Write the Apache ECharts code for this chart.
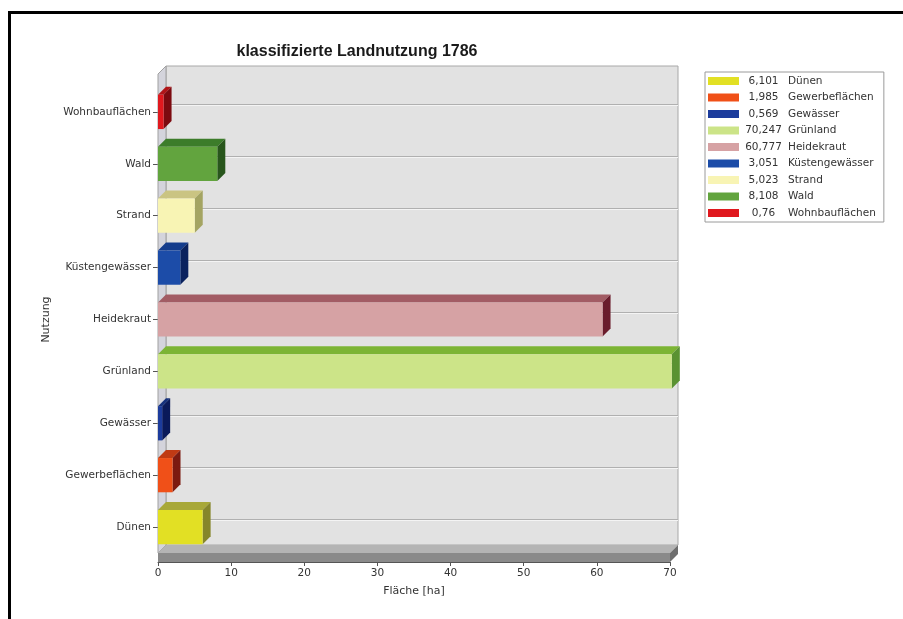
<!DOCTYPE html>
<html>
<head>
<meta charset="utf-8">
<title>klassifizierte Landnutzung 1786</title>
<script src="https://cdn.jsdelivr.net/npm/echarts@6/dist/echarts.min.js"></script>
<style>
  html, body { margin: 0; padding: 0; background: #ffffff; }
  #chart { width: 903px; height: 619px; }
</style>
</head>
<body>
<div id="chart"></div>
<script>
// Land use classes (bottom to top on the category axis)
const categories = ['Dünen', 'Gewerbeflächen', 'Gewässer', 'Grünland', 'Heidekraut',
                    'Küstengewässer', 'Strand', 'Wald', 'Wohnbauflächen'];
// Area per class in hectares
const areaHa = [6.101, 1.985, 0.569, 70.247, 60.777, 3.051, 5.023, 8.108, 0.76];
// Value axis ticks
const xTicks = [0, 10, 20, 30, 40, 50, 60, 70];

// Face colours of the extruded bars: front, top, side
const frontColors = ['#e2e024', '#f05018', '#1c3c9c', '#cce488', '#d6a2a4', '#1c4ca8', '#f8f4b4', '#62a43e', '#e0181e'];
const topColors   = ['#a8a838', '#c03a14', '#14307c', '#7cb434', '#a25c64', '#143c8c', '#cac482', '#3c7c2a', '#b01418'];
const sideColors  = ['#86862a', '#7c1a10', '#0a1a5a', '#5a9232', '#6a1c2c', '#0a225e', '#a4a462', '#28561c', '#7c0a10'];

const DX = 8, DY = 8;          // depth offset of the 3D look
const BAR_RATIO = 0.66;        // bar thickness relative to category band

function fmt(v) { return String(v).replace('.', ','); }

function renderBar(idx) {
  return function (params, api) {
    const v = api.value(0), c = api.value(1);
    const p0 = api.coord([0, c]);
    const p1 = api.coord([v, c]);
    const h = api.size([0, 1])[1] * BAR_RATIO;
    const x0 = p0[0], x1 = p1[0];
    const yT = p0[1] - h / 2, yB = p0[1] + h / 2;
    return {
      type: 'group',
      children: [
        { type: 'polygon', shape: { points: [[x0, yT], [x1, yT], [x1 + DX, yT - DY], [x0 + DX, yT - DY]] },
          style: { fill: topColors[idx] } },
        { type: 'polygon', shape: { points: [[x1, yT], [x1 + DX, yT - DY], [x1 + DX, yB - DY], [x1, yB]] },
          style: { fill: sideColors[idx] } },
        { type: 'rect', shape: { x: x0, y: yT, width: x1 - x0, height: h },
          style: { fill: frontColors[idx] } }
      ]
    };
  };
}

// Back wall, left wall, floor slab and gridlines on the back wall
function renderWalls(params, api) {
  const cs = params.coordSys;
  const x = cs.x, y = cs.y, w = cs.width, h = cs.height;
  const wallTop = y - 20;
  const bottom = y + h;
  const slab = 9;
  const children = [
    // back wall
    { type: 'rect', shape: { x: x + DX, y: wallTop, width: w, height: bottom - DY - wallTop },
      style: { fill: '#e2e2e2', stroke: '#a8a8a8', lineWidth: 1 } },
    // left wall
    { type: 'polygon', shape: { points: [[x, wallTop + DY], [x + DX, wallTop], [x + DX, bottom - DY], [x, bottom]] },
      style: { fill: '#d4d4dc', stroke: '#a0a0a0', lineWidth: 1 } },
    // floor top face
    { type: 'polygon', shape: { points: [[x, bottom], [x + w, bottom], [x + w + DX, bottom - DY], [x + DX, bottom - DY]] },
      style: { fill: '#b4b4b4' } },
    // floor front face
    { type: 'rect', shape: { x: x, y: bottom, width: w, height: slab },
      style: { fill: '#8a8a8a' } },
    // floor right face
    { type: 'polygon', shape: { points: [[x + w, bottom], [x + w + DX, bottom - DY], [x + w + DX, bottom - DY + slab], [x + w, bottom + slab]] },
      style: { fill: '#6e6e6e' } }
  ];
  for (let i = 0; i < categories.length; i++) {
    const gy = Math.round(api.coord([0, i])[1] - DY) + 0.5;
    children.push({ type: 'line', shape: { x1: x + DX, y1: gy, x2: x + w + DX, y2: gy },
      style: { stroke: '#b0b0b0', lineWidth: 1 } });
    children.push({ type: 'line', shape: { x1: x + DX, y1: gy + 1, x2: x + w + DX, y2: gy + 1 },
      style: { stroke: '#f4f4f4', lineWidth: 1 } });
  }
  return { type: 'group', children: children, silent: true };
}

const FONT = '"DejaVu Sans", Verdana, sans-serif';
const TITLE_FONT = '"Liberation Sans", Arial, sans-serif';
const FS = 10.5;

const series = [{
  name: '__walls',
  type: 'custom',
  renderItem: renderWalls,
  data: [[0, 0]],
  encode: { x: 0, y: 1 },
  silent: true,
  clip: false,
  z: 1
}];
categories.forEach(function (cat, i) {
  series.push({
    name: cat,
    type: 'custom',
    renderItem: renderBar(i),
    itemStyle: { color: frontColors[i] },
    data: [[areaHa[i], i]],
    encode: { x: 0, y: 1 },
    clip: false,
    z: 3
  });
});

const chart = echarts.init(document.getElementById('chart'), null, { renderer: 'canvas' });
chart.setOption({
  animation: false,
  backgroundColor: '#ffffff',
  textStyle: { fontFamily: FONT },
  title: {
    text: 'klassifizierte Landnutzung 1786',
    left: 352, top: 39, textAlign: 'center',
    textStyle: { fontFamily: TITLE_FONT, fontSize: 16, fontWeight: 'bold', color: '#1a1a1a' }
  },
  legend: {
    data: categories.slice(),
    orient: 'vertical',
    left: 705, top: 72,
    padding: [3, 8, 3, 3],
    itemWidth: 31, itemHeight: 8, itemGap: 4.5,
    itemStyle: { borderWidth: 0 },
    icon: 'rect',
    selectedMode: false,
    borderColor: '#9a9a9a', borderWidth: 1, backgroundColor: '#ffffff',
    formatter: function (name) {
      const i = categories.indexOf(name);
      return '{a|' + fmt(areaHa[i]) + '}{b|' + name + '}';
    },
    textStyle: {
      fontFamily: FONT, fontSize: FS, color: '#333333', lineHeight: 12,
      rich: {
        a: { width: 39, align: 'right', fontFamily: FONT, fontSize: FS, color: '#333333', lineHeight: 12 },
        b: { padding: [0, 0, 0, 5], fontFamily: FONT, fontSize: FS, color: '#333333', lineHeight: 12 }
      }
    }
  },
  grid: { left: 158, top: 86, width: 512, height: 467, containLabel: false },
  xAxis: {
    type: 'value',
    min: xTicks[0], max: xTicks[xTicks.length - 1], interval: 10,
    offset: 9,
    name: 'Fläche [ha]', nameLocation: 'middle', nameGap: 24,
    nameTextStyle: { fontFamily: FONT, fontSize: 11, color: '#333333' },
    axisLine: { show: true, lineStyle: { color: '#555555' } },
    axisTick: { show: true, length: 4, lineStyle: { color: '#555555' } },
    axisLabel: { fontFamily: FONT, fontSize: FS, color: '#333333', margin: 6 },
    splitLine: { show: false }
  },
  yAxis: {
    type: 'category',
    data: categories,
    name: 'Nutzung', nameLocation: 'middle', nameGap: 106,
    nameTextStyle: { fontFamily: FONT, fontSize: 11, color: '#333333' },
    axisLine: { show: true, lineStyle: { color: '#888888' } },
    axisTick: { show: true, alignWithLabel: true, length: 5, lineStyle: { color: '#555555' } },
    axisLabel: { fontFamily: FONT, fontSize: FS, color: '#333333', margin: 7 },
    splitLine: { show: false }
  },
  graphic: [
    { type: 'line', shape: { x1: 8, y1: 12.5, x2: 903, y2: 12.5 }, style: { stroke: '#000000', lineWidth: 3 }, z: 100 },
    { type: 'line', shape: { x1: 9.5, y1: 11, x2: 9.5, y2: 619 }, style: { stroke: '#000000', lineWidth: 3 }, z: 100 }
  ],
  series: series
});
</script>
</body>
</html>
